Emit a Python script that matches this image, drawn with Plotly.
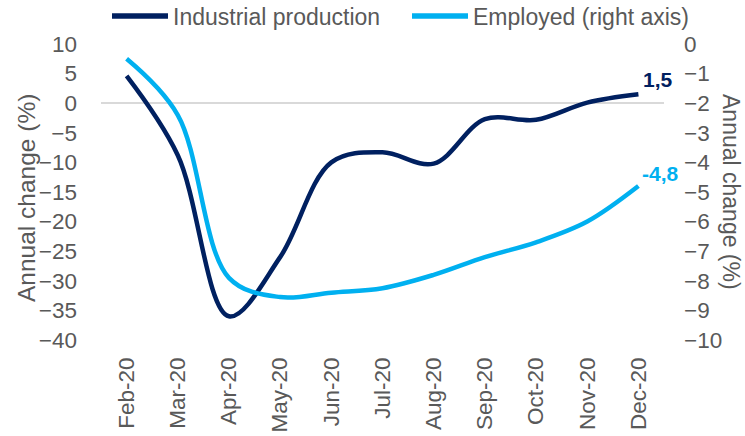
import plotly.graph_objects as go

# Monthly data, 2020
months = ["Feb-20", "Mar-20", "Apr-20", "May-20", "Jun-20", "Jul-20",
          "Aug-20", "Sep-20", "Oct-20", "Nov-20", "Dec-20"]
industrial = [4.6, -8.8, -36.0, -26.0, -10.0, -8.3, -10.2, -2.7, -2.8, 0.1, 1.5]
employed = [-0.5, -2.4, -7.9, -8.55, -8.4, -8.25, -7.8, -7.2, -6.7, -6.0, -4.8]

left_ticks = list(range(-40, 11, 5))
right_ticks = list(range(-10, 1, 1))

NAVY = "#002060"
CYAN = "#00B0F0"
GREY = "#595959"
FONT = "Liberation Sans, Arial, sans-serif"

W, H = 745, 436
L, R, T, B = 101, 81, 44, 96
pw, ph = W - L - R, H - T - B


def px(x):
    return (x - L) / pw


def py(y):
    return (H - B - y) / ph


def fmt(v):
    return f"{v:.1f}".replace(".", ",")


fig = go.Figure()
fig.add_trace(go.Scatter(
    x=months, y=industrial, name="Industrial production", yaxis="y",
    mode="lines", line=dict(color=NAVY, width=4.5, shape="spline", smoothing=1.0),
))
fig.add_trace(go.Scatter(
    x=months, y=employed, name="Employed (right axis)", yaxis="y2",
    mode="lines", line=dict(color=CYAN, width=4.5, shape="spline", smoothing=1.0),
))

# End-of-series value labels
fig.add_annotation(x=months[-1], y=industrial[-1], yref="y",
                   text=fmt(industrial[-1]),
                   showarrow=False, xanchor="left", yanchor="middle",
                   xshift=3, yshift=15,
                   font=dict(family=FONT, size=21, color=NAVY, weight="bold"))
fig.add_annotation(x=months[-1], y=employed[-1], yref="y2",
                   text=fmt(employed[-1]),
                   showarrow=False, xanchor="left", yanchor="middle",
                   xshift=2, yshift=13,
                   font=dict(family=FONT, size=21, color=CYAN, weight="bold"))

# Axis titles
fig.add_annotation(xref="paper", yref="paper", x=px(26), y=py(198),
                   text="Annual change (%)", textangle=-90, showarrow=False,
                   xanchor="center", yanchor="middle",
                   font=dict(family=FONT, size=24.5, color=GREY))
fig.add_annotation(xref="paper", yref="paper", x=px(731), y=py(192),
                   text="Annual change (%)", textangle=90, showarrow=False,
                   xanchor="center", yanchor="middle",
                   font=dict(family=FONT, size=23, color=GREY))

# Legend drawn along the top
legend_items = [("Industrial production", NAVY, 112, 168),
                ("Employed (right axis)", CYAN, 412, 468)]
for label, color, x0, x1 in legend_items:
    fig.add_shape(type="line", xref="paper", yref="paper",
                  x0=px(x0), x1=px(x1), y0=py(16), y1=py(16),
                  line=dict(color=color, width=5.5))
    fig.add_annotation(xref="paper", yref="paper", x=px(x1 + 3), y=py(17),
                       text=label, showarrow=False, xanchor="left",
                       yanchor="middle",
                       font=dict(family=FONT, size=23, color=GREY))

fig.update_layout(
    width=W, height=H,
    margin=dict(l=L, r=R, t=T, b=B, pad=0, autoexpand=False),
    paper_bgcolor="white", plot_bgcolor="white",
    showlegend=False,
    font=dict(family=FONT, color=GREY, size=22.5),
    xaxis=dict(
        type="category", range=[-0.5, len(months) - 0.5], automargin=False,
        tickangle=-90, showgrid=False, showline=False,
        ticks="", ticklabelstandoff=12,
        tickfont=dict(family=FONT, size=22.5, color=GREY),
    ),
    yaxis=dict(
        range=[-40, 10], tickvals=left_ticks, showgrid=False, automargin=False,
        zeroline=True, zerolinecolor="#D9D9D9", zerolinewidth=1.5,
        showline=False, ticks="", ticklabelstandoff=23,
        tickfont=dict(family=FONT, size=22.5, color=GREY),
    ),
    yaxis2=dict(
        range=[-10, 0], tickvals=right_ticks, overlaying="y", side="right",
        showgrid=False, zeroline=False, showline=False, ticks="",
        ticklabelstandoff=19, automargin=False,
        tickfont=dict(family=FONT, size=22.5, color=GREY),
    ),
)

fig.write_html("out.html")
